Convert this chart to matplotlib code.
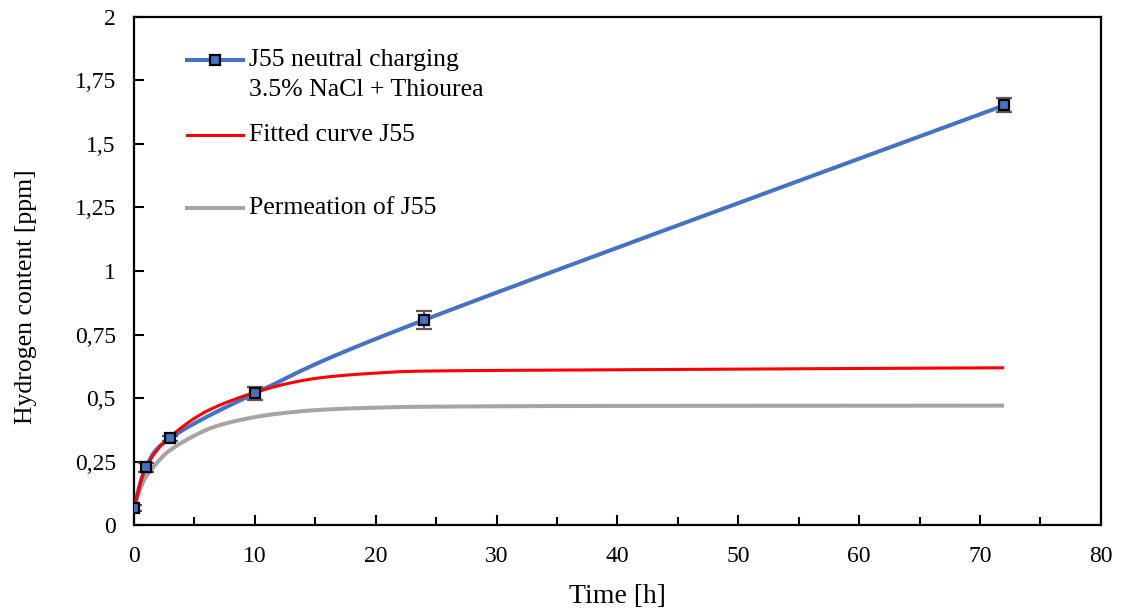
import numpy as np
import matplotlib
matplotlib.use("Agg")
import matplotlib.pyplot as plt
from matplotlib.ticker import MultipleLocator, FuncFormatter

# Measured hydrogen content, J55 neutral charging in 3.5% NaCl + thiourea
time_h = [0, 1, 3, 10, 24, 72]
h_content = [0.068, 0.227, 0.342, 0.518, 0.807, 1.652]
h_err = [0.012, 0.018, 0.010, 0.026, 0.037, 0.028]

# Fitted diffusion curve
fit_t = [0, 0.5, 1, 2, 3, 5, 7, 10, 13, 16, 20, 24, 35, 50, 72]
fit_h = [0.07, 0.16, 0.23, 0.30, 0.348, 0.42, 0.47, 0.522, 0.56, 0.583,
         0.598, 0.606, 0.61, 0.614, 0.619]

# Permeation-derived curve
perm_t = [0, 0.5, 1, 2, 3, 5, 7, 10, 13, 16, 20, 25, 40, 72]
perm_h = [0.07, 0.14, 0.19, 0.25, 0.295, 0.352, 0.392, 0.425, 0.444, 0.455,
          0.462, 0.466, 0.469, 0.47]

BLUE = "#4472C4"
RED = "#FF0000"
GRAY = "#A5A5A5"


def smooth(xs, ys, n=40):
    """Bezier smoothing through the given points (spreadsheet-style)."""
    p = np.column_stack([xs, ys]).astype(float)
    out = [p[0]]
    for i in range(len(p) - 1):
        p0 = p[i - 1] if i > 0 else p[i]
        p1, p2 = p[i], p[i + 1]
        p3 = p[i + 2] if i + 2 < len(p) else p[i + 1]
        c1 = p1 + (p2 - p0) / 6.0
        c2 = p2 - (p3 - p1) / 6.0
        t = np.linspace(0, 1, n)[1:, None]
        seg = ((1 - t) ** 3) * p1 + 3 * ((1 - t) ** 2) * t * c1 \
            + 3 * (1 - t) * t ** 2 * c2 + t ** 3 * p2
        out.extend(seg)
    out = np.array(out)
    return out[:, 0], out[:, 1]


plt.rcParams["font.family"] = ["Liberation Serif", "DejaVu Serif"]

fig = plt.figure(figsize=(11.21, 6.15), dpi=100)
ax = fig.add_axes([0.1195, 0.1463, 0.8625, 0.8261])

gx, gy = smooth(perm_t, perm_h)
ax.plot(gx, gy, color=GRAY, lw=2.9, zorder=2, solid_capstyle="butt")
bx, by = smooth(time_h, h_content)
ax.plot(bx, by, color=BLUE, lw=2.9, zorder=2.5, solid_capstyle="butt")
rx, ry = smooth(fit_t, fit_h)
ax.plot(rx, ry, color=RED, lw=2.2, zorder=3, solid_capstyle="butt")

ax.errorbar(time_h, h_content, yerr=h_err, fmt="none", ecolor="#595959",
            elinewidth=1.6, capsize=6, capthick=1.6, zorder=4)
ax.plot(time_h, h_content, ls="none", marker="s", ms=7.5, mfc=BLUE,
        mec="black", mew=1.6, zorder=5)

ax.set_xlim(0, 80)
ax.set_ylim(0, 2)
ax.xaxis.set_major_locator(MultipleLocator(10))
ax.xaxis.set_minor_locator(MultipleLocator(5))
ax.yaxis.set_major_locator(MultipleLocator(0.25))


def comma_fmt(v, pos):
    s = f"{v:g}"
    return s.replace(".", ",")


ax.yaxis.set_major_formatter(FuncFormatter(comma_fmt))
ax.xaxis.set_major_formatter(FuncFormatter(comma_fmt))

ax.tick_params(axis="both", which="both", direction="in", width=1.5,
               labelsize=17, colors="black")
ax.tick_params(axis="both", which="major", length=7)
ax.tick_params(axis="both", which="minor", length=6)
ax.tick_params(axis="x", pad=15)
ax.tick_params(axis="y", pad=13)
ax.tick_params(top=False, right=False, which="both")
for sp in ax.spines.values():
    sp.set_linewidth(1.6)
    sp.set_color("black")

ax.set_xlabel("Time [h]", fontsize=20)
ax.xaxis.set_label_coords(0.5, -0.117)
ax.set_ylabel("Hydrogen content [ppm]", fontsize=18.5)
ax.yaxis.set_label_coords(-0.100, 0.449)

# Legend drawn in axes coordinates
hx0, hx1, tx = 0.0548, 0.1127, 0.119
lfs = 18.5
ax.plot([hx0, hx1], [0.915, 0.915], transform=ax.transAxes, color=BLUE,
        lw=2.9, clip_on=False)
ax.plot([(hx0 + hx1) / 2], [0.915], transform=ax.transAxes, marker="s",
        ms=7.5, mfc=BLUE, mec="black", mew=1.6, clip_on=False)
ax.text(tx, 0.915, "J55 neutral charging", transform=ax.transAxes,
        fontsize=lfs, va="center", ha="left")
ax.text(tx, 0.856, "3.5% NaCl + Thiourea", transform=ax.transAxes,
        fontsize=lfs, va="center", ha="left")
ax.plot([hx0, hx1], [0.768, 0.768], transform=ax.transAxes, color=RED,
        lw=2.2, clip_on=False)
ax.text(tx, 0.768, "Fitted curve J55", transform=ax.transAxes,
        fontsize=lfs, va="center", ha="left")
ax.plot([hx0, hx1], [0.624, 0.624], transform=ax.transAxes, color=GRAY,
        lw=2.9, clip_on=False)
ax.text(tx, 0.624, "Permeation of J55", transform=ax.transAxes,
        fontsize=lfs, va="center", ha="left")

fig.savefig("out.png", dpi=100)
